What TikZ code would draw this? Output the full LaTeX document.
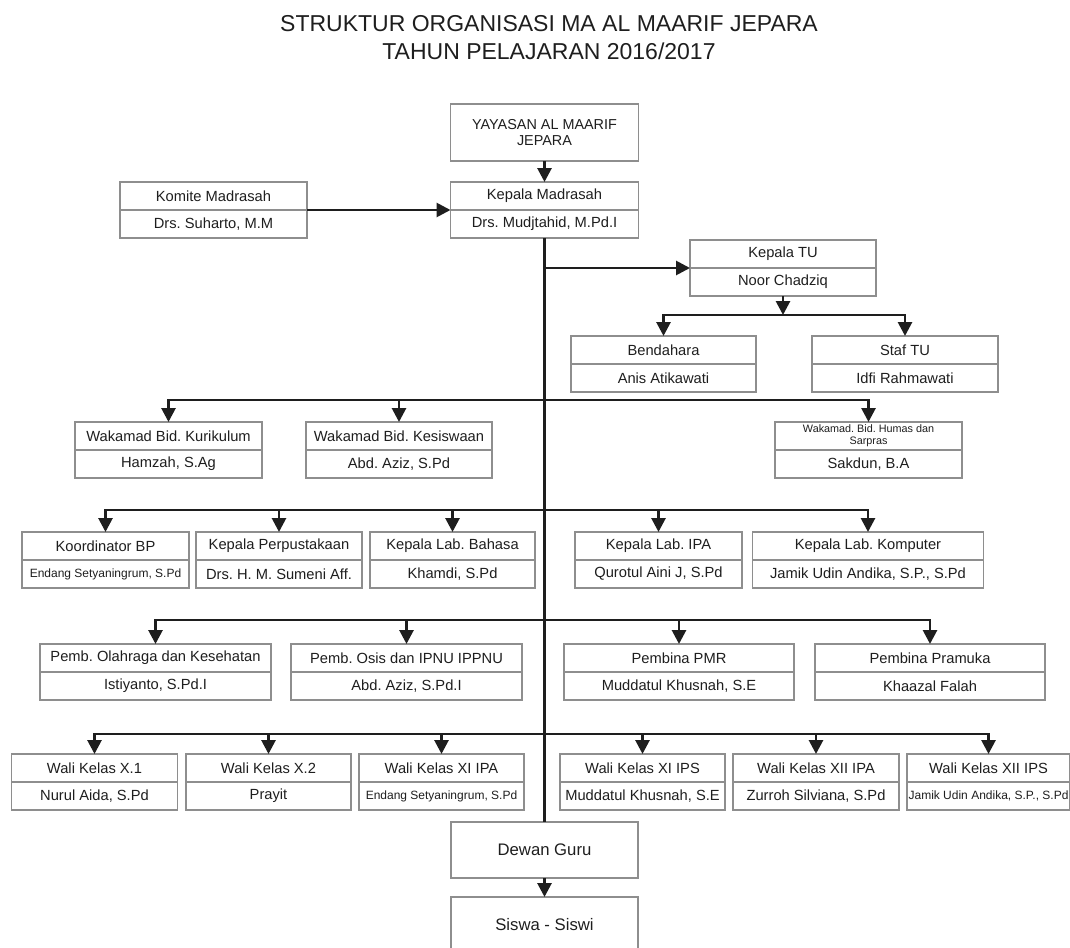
\documentclass[tikz,border=0pt]{standalone}
\usepackage{fontspec}
\setmainfont{Liberation Sans}
\usepackage{tikz}
\usetikzlibrary{positioning,arrows.meta}
\definecolor{tinta}{HTML}{1E1E1E}
\definecolor{garis}{HTML}{8E8E8E}
\frenchspacing

\begin{document}
\begin{tikzpicture}[x=1pt, y=-1pt, >={Triangle[length=14pt,width=14pt]},
	jabatan/.style={draw=garis, line width=1.2pt, outer sep=0pt, inner sep=0pt, minimum height=28pt, minimum width=#1, align=center, text=tinta, font=\fontsize{14.7}{17}\selectfont},
	jabatan/.default=187,
	kecil/.style={font=\fontsize{12}{14}\selectfont},
	lebihkecil/.style={font=\fontsize{10.8}{12}\selectfont},
	besar/.style={jabatan=187, minimum height=56pt, font=\fontsize{16.7}{19}\selectfont},
	judul/.style={anchor=base, text=tinta, font=\fontsize{23}{28}\selectfont},
	panah/.style={->, line width=2.8pt, color=tinta},
	siku/.style={to path={-| (\tikztotarget)}}]
	\useasboundingbox (0,0) rectangle (1070,947);
	\clip (0,0) rectangle (1070,947);

	\node[judul] (jdl1) at (549,32) {STRUKTUR ORGANISASI MA AL MAARIF JEPARA};
	\node[judul] (jdl2) at (549,60) {TAHUN PELAJARAN 2016/2017};

	\node[jabatan=188, minimum height=57pt, font=\fontsize{14.4}{16.5}\selectfont] (yys) at (544.5,132.5) {YAYASAN AL MAARIF\\JEPARA};
	\node[jabatan=188] (kpl) at (544.5,196) {Kepala Madrasah};
	\node[jabatan=188, below=0pt of kpl] (kpln) {Drs. Mudjtahid, M.Pd.I};
	\node[jabatan=187] (kmt) at (213.5,196) {Komite Madrasah};
	\node[jabatan=187, below=0pt of kmt] (kmtn) {Drs. Suharto, M.M};

	\node[jabatan=186] (tu) at (783,254) {Kepala TU};
	\node[jabatan=186, below=0pt of tu] (tun) {Noor Chadziq};
	\node[jabatan=185] (bdh) at (663.5,350) {Bendahara};
	\node[jabatan=185, below=0pt of bdh] (bdhn) {Anis Atikawati};
	\node[jabatan=186] (stf) at (905,350) {Staf TU};
	\node[jabatan=186, below=0pt of stf] (stfn) {Idfi Rahmawati};

	\node[jabatan=187] (kur) at (168.5,436) {Wakamad Bid. Kurikulum};
	\node[jabatan=187, below=0pt of kur] (kurn) {Hamzah, S.Ag};
	\node[jabatan=186] (kes) at (399,436) {Wakamad Bid. Kesiswaan};
	\node[jabatan=186, below=0pt of kes] (kesn) {Abd. Aziz, S.Pd};
	\node[jabatan=187, lebihkecil] (hum) at (868.5,436) {Wakamad. Bid. Humas dan\\Sarpras};
	\node[jabatan=187, below=0pt of hum] (humn) {Sakdun, B.A};

	\node[jabatan=167] (bp) at (105.5,546) {Koordinator BP};
	\node[jabatan=167, kecil, below=0pt of bp] (bpn) {Endang Setyaningrum, S.Pd};
	\node[jabatan=166] (pus) at (279,546) {Kepala Perpustakaan};
	\node[jabatan=166, below=0pt of pus] (pusn) {Drs. H. M. Sumeni Aff.};
	\node[jabatan=165] (bhs) at (452.5,546) {Kepala Lab. Bahasa};
	\node[jabatan=165, below=0pt of bhs] (bhsn) {Khamdi, S.Pd};
	\node[jabatan=167] (ipa) at (658.5,546) {Kepala Lab. IPA};
	\node[jabatan=167, below=0pt of ipa] (ipan) {Qurotul Aini J, S.Pd};
	\node[jabatan=231] (lkom) at (868,546) {Kepala Lab. Komputer};
	\node[jabatan=231, below=0pt of lkom] (lkomn) {Jamik Udin Andika, S.P., S.Pd};

	\node[jabatan=231] (olr) at (155.5,658) {Pemb. Olahraga dan Kesehatan};
	\node[jabatan=231, below=0pt of olr] (olrn) {Istiyanto, S.Pd.I};
	\node[jabatan=231] (osi) at (406.5,658) {Pemb. Osis dan IPNU IPPNU};
	\node[jabatan=231, below=0pt of osi] (osin) {Abd. Aziz, S.Pd.I};
	\node[jabatan=230] (pmr) at (679,658) {Pembina PMR};
	\node[jabatan=230, below=0pt of pmr] (pmrn) {Muddatul Khusnah, S.E};
	\node[jabatan=230] (prm) at (930,658) {Pembina Pramuka};
	\node[jabatan=230, below=0pt of prm] (prmn) {Khaazal Falah};

	\node[jabatan=166] (wk1) at (94.5,768) {Wali Kelas X.1};
	\node[jabatan=166, below=0pt of wk1] (wk1n) {Nurul Aida, S.Pd};
	\node[jabatan=165] (wk2) at (268.5,768) {Wali Kelas X.2};
	\node[jabatan=165, below=0pt of wk2] (wk2n) {Prayit};
	\node[jabatan=165] (wk3) at (441.5,768) {Wali Kelas XI IPA};
	\node[jabatan=165, kecil, below=0pt of wk3] (wk3n) {Endang Setyaningrum, S.Pd};
	\node[jabatan=165] (wk4) at (642.5,768) {Wali Kelas XI IPS};
	\node[jabatan=165, below=0pt of wk4] (wk4n) {Muddatul Khusnah, S.E};
	\node[jabatan=166] (wk5) at (816,768) {Wali Kelas XII IPA};
	\node[jabatan=166, below=0pt of wk5] (wk5n) {Zurroh Silviana, S.Pd};
	\node[jabatan=163] (wk6) at (988.5,768) {Wali Kelas XII IPS};
	\node[jabatan=163, kecil, below=0pt of wk6] (wk6n) {Jamik Udin Andika, S.P., S.Pd};

	\node[besar] (dgr) at (544.5,850) {Dewan Guru};
	\node[besar] (ssw) at (544.5,925) {Siswa - Siswi};

	\coordinate (t1) at (544.5,268);
	\coordinate (t2) at (544.5,400);
	\coordinate (t3) at (544.5,510);
	\coordinate (t4) at (544.5,620);
	\coordinate (t5) at (544.5,734);
	\coordinate (tub) at (783,315);

	\path[panah] (yys) edge (kpl)
	(kmt.south east) edge (kpl.south west)
	(kpln) edge[-] (dgr)
	(t1) edge (tu.south west)
	(tun) edge (tub)
	(tub) edge[siku] (bdh)
	(tub) edge[siku] (stf)
	(t2) edge[siku] (kur)
	(t2) edge[siku] (kes)
	(t2) edge[siku] (hum)
	(t3) edge[siku] (bp)
	(t3) edge[siku] (pus)
	(t3) edge[siku] (bhs)
	(t3) edge[siku] (ipa)
	(t3) edge[siku] (lkom)
	(t4) edge[siku] (olr)
	(t4) edge[siku] (osi)
	(t4) edge[siku] (pmr)
	(t4) edge[siku] (prm)
	(t5) edge[siku] (wk1)
	(t5) edge[siku] (wk2)
	(t5) edge[siku] (wk3)
	(t5) edge[siku] (wk4)
	(t5) edge[siku] (wk5)
	(t5) edge[siku] (wk6)
	(dgr) edge (ssw);
\end{tikzpicture}
\end{document}
